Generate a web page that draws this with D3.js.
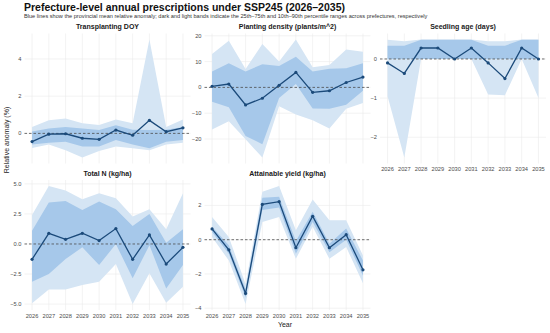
<!DOCTYPE html>
<meta charset="utf-8">
<style>
body { margin: 0; background: #fff; }
text { font-family: "Liberation Sans", Arial, sans-serif; }
.grid line { stroke: #ebebeb; stroke-width: 0.6px; }
.tick-lab { fill: #4d4d4d; font-size: 5.7px; }
.strip { font-size: 7px; font-weight: bold; fill: #1a1a1a; }
</style>
<svg width="550" height="333"></svg>
<script src="https://cdn.jsdelivr.net/npm/d3@7"></script>
<script>

var years = [2026, 2027, 2028, 2029, 2030, 2031, 2032, 2033, 2034, 2035];

// Transplanting DOY
var doyMean = [-0.44, -0.04, -0.02, -0.26, -0.32, 0.18, -0.1, 0.7, 0.09, 0.3];
var doyQ25  = [-0.6, -0.5, -0.45, -0.7, -0.7, -0.35, -0.6, -0.8, -0.45, -0.35];
var doyQ75  = [0.1, 0.26, 0.35, 0.26, 0.18, 0.44, 0.2, 0.18, 0.2, 0.35];
var doyQ10  = [-0.78, -0.6, -0.9, -1.3, -0.95, -0.7, -0.8, -0.9, -0.6, -0.5];
var doyQ90  = [0.35, 0.7, 0.8, 0.55, 0.45, 0.75, 0.55, 5.05, 0.35, 0.75];

// Planting density
var denMean = [0.4, 1.3, -6.8, -4.2, 0.8, 5.8, -1.9, -1.3, 1.9, 4.0];
var denQ25  = [-5.6, -7.7, -18.8, -22, -4.1, 1.3, -8.2, -8.3, -6.7, -1.3];
var denQ75  = [6.2, 9.4, 6.2, 9.0, 8.3, 11.9, 6.2, 7.2, 7.4, 9.4];
var denQ10  = [-16.3, -13.1, -20.1, -27.2, -7.3, -10.5, -12.7, -15.9, -8.3, -6.0];
var denQ90  = [12.9, 18.1, 7.1, 16.8, 10, 18.6, 7.8, 8.7, 14.7, 13.8];

// Seedling age
var ageMean = [-0.1, -0.37, 0.28, 0.28, 0.0, 0.28, -0.1, -0.5, 0.28, 0.0];
var ageQ25  = [0, 0, 0, 0, 0, 0, 0, 0, 0, 0];
var ageQ75  = [0.34, 0.34, 0.49, 0.49, 0.49, 0.49, 0.34, 0.34, 0.49, 0.49];
var ageQ10  = [-0.95, -2.52, 0, 0, 0, 0, -0.91, -0.93, 0, -1.0];
var ageQ90  = [0.49, 0.45, 0.5, 0.5, 0.5, 0.5, 0.45, 0.45, 0.5, 0.5];

// Total N
var nMean = [-1.28, 0.89, 0.39, 0.89, 0.28, 1.28, -1.28, 0.75, -1.67, -0.28];
var nQ25  = [-3.14, -2.5, -1.25, -0.28, -1.75, 0, -2.86, -0.1, -3.7, -1.75];
var nQ75  = [1.1, 3.44, 3.58, 2.83, 3.53, 2.89, 1.5, 2.5, 0.11, 1.22];
var nQ10  = [-4.94, -3.78, -3.78, -3.42, -3.14, -1.67, -5.0, -2.44, -4.89, -3.56];
var nQ90  = [2.42, 4.83, 4.44, 3.72, 4.22, 3.8, 2.28, 2.89, 1.22, 4.22];

// Attainable yield
var yMean = [0.63, -0.59, -3.14, 2.06, 2.22, -0.47, 1.37, -0.47, 0.29, -1.76];
var yQ25  = [0.45, -0.82, -3.37, 1.73, 1.88, -0.82, 1.04, -0.73, 0.0, -2.1];
var yQ75  = [0.75, -0.33, -2.9, 2.45, 2.5, -0.08, 1.63, -0.24, 0.65, -1.22];
var yQ10  = [0.16, -1.22, -3.76, 1.04, 1.33, -1.12, 0.75, -1.12, -0.43, -2.55];
var yQ90  = [1.33, 0.16, -2.6, 2.8, 3.14, 0.55, 2.35, 1.14, 1.14, -0.92];

var panels = [
  {title: "Transplanting DOY", mean: doyMean, q25: doyQ25, q75: doyQ75, q10: doyQ10, q90: doyQ90,
   ticks: [0, 2, 4], fmt: d3.format("d"), x0: 24.5, y0: 33.5, xAxis: false},
  {title: "Planting density (plants/m^2)", mean: denMean, q25: denQ25, q75: denQ75, q10: denQ10, q90: denQ90,
   ticks: [-20, -10, 0, 10, 20], fmt: d3.format("d"), x0: 204.5, y0: 33.5, xAxis: false},
  {title: "Seedling age (days)", mean: ageMean, q25: ageQ25, q75: ageQ75, q10: ageQ10, q90: ageQ90,
   ticks: [-2, -1, 0], fmt: d3.format("d"), x0: 380, y0: 33.5, xAxis: true},
  {title: "Total N (kg/ha)", mean: nMean, q25: nQ25, q75: nQ75, q10: nQ10, q90: nQ90,
   ticks: [-5, -2.5, 0, 2.5, 5], fmt: d3.format(".1f"), x0: 24.5, y0: 180, xAxis: true},
  {title: "Attainable yield (kg/ha)", mean: yMean, q25: yQ25, q75: yQ75, q10: yQ10, q90: yQ90,
   ticks: [-4, -2, 0, 2], fmt: d3.format("d"), x0: 204.5, y0: 180, xAxis: true}
];

var pw = 166, ph = 130;
var svg = d3.select("svg");

// Titles
svg.append("text").attr("x", 24).attr("y", 10.5)
  .style("font-size", "10.5px").style("font-weight", "bold").attr("fill", "#111")
  .text("Prefecture-level annual prescriptions under SSP245 (2026\u20132035)");
svg.append("text").attr("x", 24).attr("y", 18.2)
  .style("font-size", "5.6px").attr("fill", "#333")
  .text("Blue lines show the provincial mean relative anomaly; dark and light bands indicate the 25th\u201375th and 10th\u201390th percentile ranges across prefectures, respectively");

// Axis titles
svg.append("text").attr("transform", "translate(9,140) rotate(-90)")
  .attr("text-anchor", "middle").style("font-size", "7px").attr("fill", "#222")
  .text("Relative anomaly (%)");
svg.append("text").attr("x", 285).attr("y", 327)
  .attr("text-anchor", "middle").style("font-size", "7px").attr("fill", "#222")
  .text("Year");

panels.forEach(function(p) {
  var x = d3.scaleLinear()
    .domain([2026 - 0.45, 2035 + 0.45])
    .range([p.x0, p.x0 + pw]);

  // ggplot-like 5% expansion of the data range
  var lo = d3.min(p.q10.concat(p.mean)), hi = d3.max(p.q90.concat(p.mean));
  var pad = (hi - lo) * 0.05;
  var y = d3.scaleLinear()
    .domain([lo - pad, hi + pad])
    .range([p.y0 + ph, p.y0]);

  var g = svg.append("g");

  // Grid
  var grid = g.append("g").attr("class", "grid");
  grid.selectAll(".gx").data(years).enter().append("line")
    .attr("x1", function(d) { return x(d); }).attr("x2", function(d) { return x(d); })
    .attr("y1", p.y0).attr("y2", p.y0 + ph);
  grid.selectAll(".gy").data(p.ticks).enter().append("line")
    .attr("x1", p.x0).attr("x2", p.x0 + pw)
    .attr("y1", function(d) { return y(d); }).attr("y2", function(d) { return y(d); });

  // Strip title
  g.append("text").attr("class", "strip")
    .attr("x", p.x0 + pw / 2).attr("y", p.y0 - 4.5)
    .attr("text-anchor", "middle").text(p.title);

  // Y tick labels
  g.selectAll(".yl").data(p.ticks).enter().append("text")
    .attr("class", "tick-lab")
    .attr("x", p.x0 - 3).attr("y", function(d) { return y(d) + 2; })
    .attr("text-anchor", "end")
    .text(function(d) { return p.fmt(d).replace("-", "\u2212"); });

  // X tick labels
  if (p.xAxis) {
    g.selectAll(".xl").data(years).enter().append("text")
      .attr("class", "tick-lab")
      .attr("x", function(d) { return x(d); }).attr("y", p.y0 + ph + 7.5)
      .attr("text-anchor", "middle")
      .text(function(d) { return d; });
  }

  var idx = d3.range(years.length);

  var outer = d3.area()
    .x(function(i) { return x(years[i]); })
    .y0(function(i) { return y(p.q10[i]); })
    .y1(function(i) { return y(p.q90[i]); });
  var inner = d3.area()
    .x(function(i) { return x(years[i]); })
    .y0(function(i) { return y(p.q25[i]); })
    .y1(function(i) { return y(p.q75[i]); });

  g.append("path").datum(idx).attr("d", outer).attr("fill", "#d5e5f4");
  g.append("path").datum(idx).attr("d", inner).attr("fill", "#a6c8ea");

  // Zero reference line
  g.append("line")
    .attr("x1", p.x0).attr("x2", p.x0 + pw)
    .attr("y1", y(0)).attr("y2", y(0))
    .attr("stroke", "#4d4d4d").attr("stroke-width", 0.8)
    .attr("stroke-dasharray", "2.5,2");

  // Mean line and points
  var line = d3.line()
    .x(function(i) { return x(years[i]); })
    .y(function(i) { return y(p.mean[i]); });
  g.append("path").datum(idx).attr("d", line)
    .attr("fill", "none").attr("stroke", "#1b4a7a").attr("stroke-width", 1.3);
  g.selectAll(".pt").data(idx).enter().append("circle")
    .attr("cx", function(i) { return x(years[i]); })
    .attr("cy", function(i) { return y(p.mean[i]); })
    .attr("r", 1.6).attr("fill", "#1b4a7a");
});

</script>
